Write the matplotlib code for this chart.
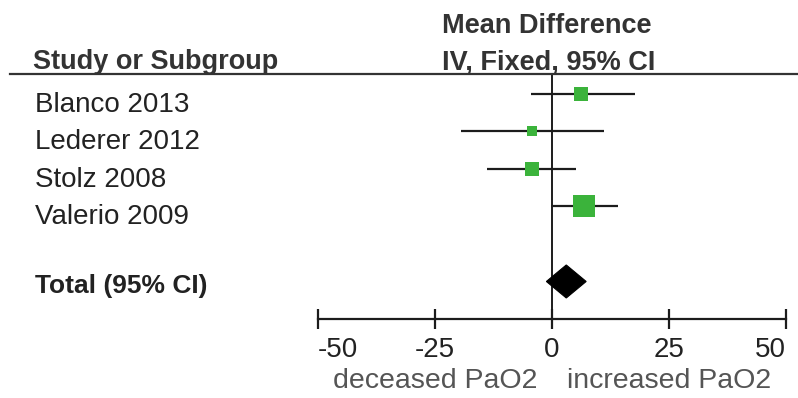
import matplotlib
matplotlib.use("Agg")
import matplotlib.pyplot as plt
import matplotlib.transforms as mtransforms
from matplotlib.patches import Polygon
from matplotlib.lines import Line2D
import numpy as np

plt.rcParams['font.family'] = ['Liberation Sans', 'DejaVu Sans']

# Study-level mean differences in PaO2 with 95% CI and weights (%)
studies = ["Blanco 2013", "Lederer 2012", "Stolz 2008", "Valerio 2009"]
mean_diff = [6.3, -4.3, -4.3, 6.9]
ci_low = [-4.5, -19.4, -13.9, -0.2]
ci_high = [17.7, 11.2, 5.1, 14.2]
weights = [18.4, 10.4, 22.4, 48.8]

# Pooled fixed-effect estimate
total_label = "Total (95% CI)"
total_mean = 3.05
total_low = -1.2
total_high = 7.3

xticks = [-50, -25, 0, 25, 50]
xtick_labels = ["-50", "-25", "0", "25", "50"]
left_note = "deceased PaO2"
right_note = "increased PaO2"

W, H = 798, 398
fig = plt.figure(figsize=(W / 100, H / 100), dpi=100)
fig.patch.set_facecolor("white")

ax = fig.add_axes([318 / W, 1 - 319 / H, 468 / W, (319 - 74) / H])
ax.set_xlim(-50, 50)
ax.set_ylim(6.0, -0.53)

ink = "#1c1c1c"
green = "#3bb33b"

for s in ("top", "left", "right"):
    ax.spines[s].set_visible(False)
ax.spines["bottom"].set_color(ink)
ax.spines["bottom"].set_linewidth(1.6)
ax.set_yticks([])
ax.set_xticks(xticks)
ax.set_xticklabels(xtick_labels, fontsize=20, color="#222222")
ax.tick_params(axis="x", direction="inout", length=14, width=1.6, color=ink, pad=6)
for lab, ha in zip(ax.get_xticklabels(), ["left", "center", "center", "center", "right"]):
    lab.set_horizontalalignment(ha)

# line of no effect
ax.axvline(0, color=ink, lw=1.4, zorder=1)

rows = np.arange(len(studies))
for r, m, lo, hi, w in zip(rows, mean_diff, ci_low, ci_high, weights):
    ax.plot([lo, hi], [r, r], color=ink, lw=1.6, zorder=2, solid_capstyle="butt")
    ax.plot([m], [r], marker="s", ms=2.23 * np.sqrt(w), color=green,
            markeredgewidth=0, zorder=3)

total_row = 5
h = 0.44
diamond = Polygon([[total_low, total_row], [total_mean, total_row - h],
                   [total_high, total_row], [total_mean, total_row + h]],
                  closed=True, facecolor="black", edgecolor="black", lw=0.8, zorder=4)
ax.add_patch(diamond)

# left-hand study labels
trans = mtransforms.blended_transform_factory(fig.transFigure, ax.transData)
for r, name in zip(rows, studies):
    ax.text(35 / W, r + 0.48, name, transform=trans, fontsize=20,
            color="#222222", va="baseline", ha="left")
ax.text(35 / W, total_row + 0.3, total_label, transform=trans, fontsize=19,
        fontweight="bold", color="#222222", va="baseline", ha="left")

# header
head = "#333333"
fig.text(33 / W, 1 - 69 / H, "Study or Subgroup", fontsize=19.5, fontweight="bold",
         color=head, va="baseline", ha="left")
fig.text(442 / W, 1 - 33 / H, "Mean Difference", fontsize=19.5, fontweight="bold",
         color=head, va="baseline", ha="left")
fig.text(442 / W, 1 - 69 / H, "IV, Fixed, 95% CI", fontsize=19.5, fontweight="bold",
         color=head, va="baseline", ha="left")
fig.add_artist(Line2D([10 / W, 1.0], [1 - 74 / H, 1 - 74 / H], transform=fig.transFigure,
                      color=head, lw=1.6))

# direction notes under the axis
fig.text(435.5 / W, 1 - 388 / H, left_note, fontsize=20.5, color="#555555",
         va="baseline", ha="center")
fig.text(669.5 / W, 1 - 388 / H, right_note, fontsize=20.5, color="#555555",
         va="baseline", ha="center")

fig.savefig("out.png", dpi=100, facecolor="white")
